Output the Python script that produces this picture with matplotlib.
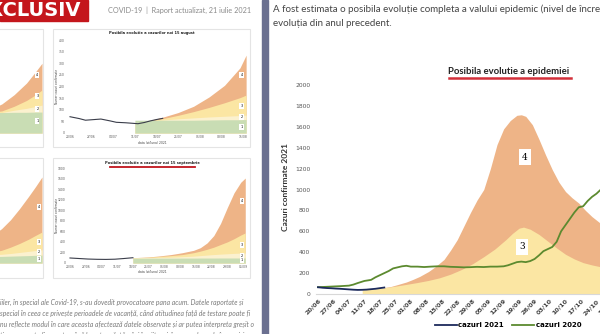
import matplotlib
matplotlib.use('Agg')
import matplotlib.pyplot as plt
from matplotlib.patches import Rectangle

# ---- main chart data (day 0 = 20/06) ----
week_labels = ['20/06', '27/06', '04/07', '11/07', '18/07', '25/07', '01/08', '08/08',
               '15/08', '22/08', '29/08', '05/09', '12/09', '19/09', '26/09', '03/10',
               '10/10', '17/10', '24/10', '31/10']

days_2021 = [0, 2, 4, 6, 8, 10, 12, 14, 16, 18, 20, 22, 24, 26, 28, 30]
cases_2021 = [65, 60, 57, 55, 52, 50, 47, 44, 41, 39, 40, 42, 46, 50, 56, 62]

days_2020 = [0, 3, 7, 10, 14, 16, 18, 21, 24, 26, 28, 30, 32, 34, 36, 38, 40, 42, 45, 48,
             51, 54, 57, 60, 63, 66, 69, 72, 75, 78, 81, 84, 86, 88, 90, 92, 94, 96, 98,
             100, 102, 104, 106, 108, 110, 112, 114, 116, 118, 120, 122, 124, 126, 128, 130]
cases_2020 = [65, 68, 72, 75, 80, 90, 105, 125, 135, 160, 180, 200, 220, 245, 255, 265, 270,
              262, 262, 258, 262, 265, 265, 260, 258, 255, 257, 260, 258, 262, 262, 265, 275,
              290, 305, 310, 305, 315, 335, 370, 410, 430, 450, 500, 600, 660, 720, 780, 830,
              840, 890, 930, 960, 1000, 1040]

days_s4 = [30, 33, 36, 40, 43, 46, 50, 53, 57, 60, 63, 66, 69, 72, 75, 78, 81, 84, 87, 90,
           92, 94, 97, 100, 103, 106, 109, 112, 115, 118, 121, 124, 127, 130, 135, 140]
scen_4 = [62, 72, 90, 115, 140, 168, 215, 260, 330, 420, 520, 650, 780, 900, 1000, 1200,
          1430, 1580, 1660, 1710, 1715, 1700, 1620, 1480, 1330, 1190, 1070, 980, 920, 870,
          800, 740, 690, 640, 580, 530]

days_s3 = [20, 24, 27, 30, 35, 40, 45, 50, 55, 60, 65, 70, 75, 80, 85, 88, 91, 93, 96, 100,
           104, 108, 112, 116, 120, 124, 128, 134, 140]
scen_3 = [40, 45, 52, 60, 75, 92, 110, 130, 155, 190, 235, 290, 357, 430, 520, 580, 630,
          640, 620, 570, 505, 440, 380, 335, 300, 278, 260, 240, 225]

# ---- small charts in the left page ----
m1_labels = ['20/06', '27/06', '04/07', '11/07', '18/07', '25/07', '01/08', '08/08', '15/08']
m1_line_days = [0, 3, 5, 8, 10, 13, 15, 18, 20, 22, 24, 26, 28, 30]
m1_line = [70, 62, 55, 58, 60, 52, 46, 44, 42, 40, 45, 52, 58, 63]
m1_days = [21, 25, 30, 35, 40, 45, 50, 55, 57]
m1_orange = [42, 52, 68, 88, 115, 155, 205, 280, 335]
m1_yellow = [42, 50, 62, 76, 92, 110, 130, 152, 163]
m1_pale = [42, 50, 56, 61, 65, 69, 72, 75, 77]
m1_green = [55, 55, 55, 55, 55, 56, 57, 57, 58]

m2_labels = ['20/06', '27/06', '04/07', '11/07', '18/07', '25/07', '01/08', '08/08',
             '15/08', '22/08', '29/08', '05/09']
m2_line_days = [0, 4, 8, 12, 16, 20, 24, 28]
m2_line = [95, 85, 75, 70, 68, 72, 85, 100]
m2_days = [28, 35, 40, 45, 50, 55, 58, 61, 64, 67, 70, 73, 76, 78]
m2_orange = [100, 115, 135, 160, 195, 240, 290, 380, 520, 750, 1050, 1330, 1530, 1610]
m2_yellow = [100, 110, 125, 140, 160, 195, 225, 260, 300, 350, 400, 460, 530, 570]
m2_pale = [95, 100, 105, 110, 120, 130, 140, 150, 160, 168, 175, 182, 188, 190]
m2_green = [90, 91, 92, 92, 93, 93, 94, 94, 94, 95, 95, 95, 95, 95]

l1_days = [30, 35, 40, 44, 48, 52, 55, 57]
l1_orange = [60, 75, 100, 125, 165, 215, 265, 300]
l1_yellow = [60, 75, 88, 95, 115, 140, 165, 185]
l1_pale = [60, 70, 80, 88, 98, 106, 114, 120]
l1_green = [88, 88, 88, 88, 89, 89, 90, 90]

l2_days = [55, 60, 64, 68, 72, 75, 78]
l2_orange = [500, 650, 820, 1030, 1260, 1440, 1630]
l2_yellow = [200, 240, 300, 370, 450, 520, 587]
l2_pale = [150, 165, 180, 200, 220, 235, 250]
l2_green = [120, 125, 130, 135, 140, 145, 150]

ORANGE = '#EEB487'
YELLOW = '#FBE6A3'
PALE = '#FBF1CF'
GREEN_FILL = '#C9DDB4'
NAVY = '#1C2A5C'
GREEN = '#5C8A2F'

W, H = 600, 334
fig = plt.figure(figsize=(6, 3.34), dpi=100)
fig.patch.set_facecolor('white')


def add_ax(x0, y0, x1, y1, z=1):
    # axes placed in pixel coords, y from the top
    return fig.add_axes([x0 / W, 1 - y1 / H, (x1 - x0) / W, (y1 - y0) / H], zorder=z)


bg = add_ax(0, 0, W, H, z=0)
bg.set_xlim(0, W)
bg.set_ylim(H, 0)
bg.axis('off')

# ---------------- left page ----------------
bg.add_patch(Rectangle((0, 0), 88, 21, color='#C4161C', zorder=2))
bg.text(81, 10.5, 'EXCLUSIV', color='white', fontsize=14, fontweight='bold',
        ha='right', va='center', zorder=3)
bg.text(108, 10.5, 'COVID-19  |  Raport actualizat, 21 iulie 2021', color='#8a8a8a',
        fontsize=5.2, va='center', family='Lato')

for (cx0, cy0, cx1, cy1) in [(-5, 29, 43, 147), (53, 29, 250, 147),
                             (-5, 158, 43, 278), (53, 158, 250, 278)]:
    bg.add_patch(Rectangle((cx0, cy0), cx1 - cx0, cy1 - cy0, facecolor='white',
                           edgecolor='#e4e4e4', lw=0.8, zorder=1))

bg.text(152, 33, 'Posibila evolutie a cazurilor noi 15 august', fontsize=2.6,
        fontweight='bold', ha='center', va='center', color='#222')
bg.text(152, 163, 'Posibila evolutie a cazurilor noi 15 septembrie', fontsize=2.6,
        fontweight='bold', ha='center', va='center', color='#222')
bg.plot([110, 195], [166.5, 166.5], color='#C0151D', lw=1.3)
bg.text(152, 143, 'data (zi/luna) 2021', fontsize=2.2, ha='center', va='center', color='#444')
bg.text(152, 272, 'data (zi/luna) 2021', fontsize=2.2, ha='center', va='center', color='#444')
bg.text(56.5, 86, 'Numar cazuri confirmate', fontsize=2.1, rotation=90, ha='center',
        va='center', color='#444')
bg.text(56.5, 215, 'Numar cazuri confirmate', fontsize=2.1, rotation=90, ha='center',
        va='center', color='#444')

para = ['iiler, în special ale Covid-19, s-au dovedit provocatoare pana acum. Datele raportate și',
        'special în ceea ce privește perioadele de vacanță, când atitudinea față de testare poate fi',
        'nu reflecte modul în care aceasta afectează datele observate și ar putea interpreta greșit o',
        'timarea poate fi acurata până la patru săptămâni în viitor și, în general, scade în precizie']
for i, line in enumerate(para):
    bg.text(0, 302 + 11 * i, line, fontsize=4.9, style='italic', color='#7a7a7a',
            va='center', family='Lato')


def small_chart(ax, days, orange, yellow, pale, green, line_days=None, line=None,
                labels=None, ymax=400, ystep=50, tags=None):
    ax.fill_between(days, 0, orange, color=ORANGE, lw=0, zorder=1)
    ax.fill_between(days, 0, yellow, color=YELLOW, lw=0, zorder=2)
    ax.fill_between(days, 0, pale, color=PALE, lw=0, zorder=3)
    ax.fill_between(days, 0, green, color=GREEN_FILL, lw=0, zorder=4)
    if line is not None:
        ax.plot(line_days, line, color='#3a3d4a', lw=0.8, zorder=5)
    ax.set_ylim(0, ymax)
    ax.set_yticks(range(0, ymax + 1, ystep))
    ax.tick_params(length=0, labelsize=2.2, colors='#555', pad=1.5)
    if labels is not None:
        ax.set_xticks(range(0, 7 * len(labels), 7))
        ax.set_xticklabels(labels)
    else:
        ax.set_xticks([])
        ax.set_yticks([])
    for s in ax.spines.values():
        s.set_visible(False)
    ax.set_facecolor('none')
    if tags:
        for (tx, ty, tt) in tags:
            ax.text(tx, ty, tt, fontsize=2.4, ha='center', va='center', zorder=6,
                    bbox=dict(boxstyle='square,pad=0.3', fc='white', ec='none'))


m1 = add_ax(70 - 3.09, 40, 70 + 57 * 3.09, 133, z=2)
m1.set_xlim(-1, 57)
small_chart(m1, m1_days, m1_orange, m1_yellow, m1_pale, m1_green, m1_line_days, m1_line,
            m1_labels, 400, 50,
            tags=[(55.5, 250, '4'), (55.5, 115, '3'), (55.5, 68, '2'), (55.5, 25, '1')])

m2 = add_ax(70 - 2.247, 168, 70 + 78 * 2.247, 263, z=2)
m2.set_xlim(-1, 78)
small_chart(m2, m2_days, m2_orange, m2_yellow, m2_pale, m2_green, m2_line_days, m2_line,
            m2_labels, 1800, 200,
            tags=[(76.5, 1170, '4'), (76.5, 340, '3'), (76.5, 140, '2'), (76.5, 55, '1')])

l1 = add_ax(42 - 58 * 3.09, 40, 42, 133, z=2)
l1.set_xlim(-1, 57)
small_chart(l1, l1_days, l1_orange, l1_yellow, l1_pale, l1_green, ymax=400,
            tags=[(55.5, 250, '4'), (55.5, 160, '3'), (55.5, 105, '2'), (55.5, 50, '1')])

l2 = add_ax(42 - 79 * 2.247, 168, 42, 263, z=2)
l2.set_xlim(-1, 78)
small_chart(l2, l2_days, l2_orange, l2_yellow, l2_pale, l2_green, ymax=1800,
            tags=[(76.5, 1060, '4'), (76.5, 400, '3'), (76.5, 200, '2'), (76.5, 80, '1')])

# divider between the two pages
bg.add_patch(Rectangle((262, 0), 6, H, color='#6B7090', zorder=5))

# ---------------- right page ----------------
bg.text(273, 9, 'A fost estimata o posibila evoluție completa a valului epidemic (nivel de încredere',
        fontsize=7.0, color='#444', va='center', family='Lato')
bg.text(273, 24, 'evoluția din anul precedent.', fontsize=7.0, color='#444', va='center',
        family='Lato')
bg.text(509, 72, 'Posibila evolutie a epidemiei', fontsize=6.8, fontweight='bold',
        color='#222', ha='center', va='center', family='Lato')
bg.plot([449, 571], [77.5, 77.5], color='#D3303A', lw=1.8)

px_day = 2.21
ax = add_ax(318 - px_day, 294 - 2050 * 0.1045, 318 + 140 * px_day, 294, z=3)
ax.set_facecolor('none')
ax.fill_between(days_s4, 0, scen_4, color=ORANGE, lw=0, zorder=1)
ax.fill_between(days_s3, 0, scen_3, color=YELLOW, lw=0, zorder=2)
ax.plot(days_2020, cases_2020, color=GREEN, lw=1.3, zorder=3, label='cazuri 2020')
ax.plot(days_2021, cases_2021, color=NAVY, lw=1.3, zorder=4, label='cazuri 2021')
ax.text(93.5, 1310, '4', fontsize=6.5, family='DejaVu Serif', ha='center', va='center',
        zorder=5, bbox=dict(boxstyle='square,pad=0.35', fc='white', ec='none'))
ax.text(92.5, 450, '3', fontsize=6.5, family='DejaVu Serif', ha='center', va='center',
        zorder=5, bbox=dict(boxstyle='square,pad=0.35', fc='white', ec='none'))

ax.set_xlim(-1, 140)
ax.set_ylim(0, 2050)
ax.set_yticks(range(0, 2001, 200))
ax.set_xticks(range(0, 7 * len(week_labels), 7))
ax.set_xticklabels(week_labels, rotation=45, ha='right', rotation_mode='anchor')
ax.tick_params(axis='y', length=0, labelsize=4.3, colors='#555', pad=4)
ax.tick_params(axis='x', length=0, labelsize=4.6, colors='#444', pad=3)
for lab in ax.get_xticklabels():
    lab.set_fontweight('bold')
for s in ['top', 'right', 'left']:
    ax.spines[s].set_visible(False)
ax.spines['bottom'].set_color('#d8d8d8')
ax.spines['bottom'].set_linewidth(0.8)
ax.set_ylabel('Cazuri confirmate 2021', fontsize=6, fontweight='bold', color='#333',
              labelpad=4, family='Lato')

h, l = ax.get_legend_handles_labels()
fig.legend(h[::-1], l[::-1], loc='center', bbox_to_anchor=(508 / W, 1 - 325 / H), ncol=2,
           frameon=False, handlelength=3.2, columnspacing=1.2, handletextpad=0.2,
           prop={'weight': 'bold', 'size': 5})

fig.savefig('out.png', dpi=100)
